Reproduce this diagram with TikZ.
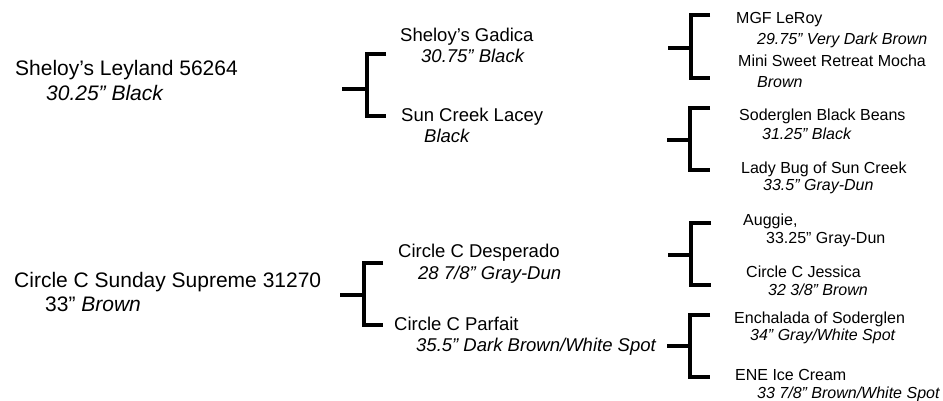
\documentclass[tikz,border=0pt]{standalone}
\usepackage{fontspec}
\setmainfont{Liberation Sans}
\usepackage{tikz}
\usetikzlibrary{calc}

\begin{document}
\begin{tikzpicture}[x=1pt, y=-1pt,
    every node/.style={inner sep=0pt, anchor=base west},
    gen1/.style={font=\fontsize{21}{25}\selectfont},
    gen2/.style={font=\fontsize{18.5}{22}\selectfont},
    gen3/.style={font=\fontsize{16}{19}\selectfont},
    bracket/.style={line width=4pt}]
    \useasboundingbox (0,0) rectangle (943,401);
    % Left: the two horses
    \node[gen1] (leyland) at (15,76) {Sheloy’s Leyland 56264};
    \node[gen1] (leyland-c) at (46,101) {\textit{30.25” Black}};
    \node[gen1] (sunday) at (14,287) {Circle C Sunday Supreme 31270};
    \node[gen1] (sunday-c) at (45,311) {33” \textit{Brown}};
    % Middle: parents
    \node[gen2] (gadica) at (400,41.5) {Sheloy’s Gadica};
    \node[gen2] (gadica-c) at (421,63) {\textit{30.75” Black}};
    \node[gen2] (lacey) at (401,121.5) {Sun Creek Lacey};
    \node[gen2] (lacey-c) at (424,143) {\textit{Black}};
    \node[gen2] (desperado) at (398,257) {Circle C Desperado};
    \node[gen2] (desperado-c) at (418,279) {\textit{28 7/8” Gray-Dun}};
    \node[gen2] (parfait) at (394,330) {Circle C Parfait};
    \node[gen2] (parfait-c) at (416,351) {\textit{35.5” Dark Brown/White Spot}};
    % Right: grandparents
    \node[gen3] (leroy) at (736,24) {MGF LeRoy};
    \node[gen3] (leroy-c) at (757,44.3) {\textit{29.75” Very Dark Brown}};
    \node[gen3] (mocha) at (738,66.7) {Mini Sweet Retreat Mocha};
    \node[gen3] (mocha-c) at (757,87.3) {\textit{Brown}};
    \node[gen3] (beans) at (739,120.7) {Soderglen Black Beans};
    \node[gen3] (beans-c) at (762,140) {\textit{31.25” Black}};
    \node[gen3] (ladybug) at (741,173.3) {Lady Bug of Sun Creek};
    \node[gen3] (ladybug-c) at (763,190.7) {\textit{33.5” Gray-Dun}};
    \node[gen3] (auggie) at (743,225.7) {Auggie,};
    \node[gen3] (auggie-c) at (766,243.3) {33.25” Gray-Dun};
    \node[gen3] (jessica) at (746,277.3) {Circle C Jessica};
    \node[gen3] (jessica-c) at (768,295) {\textit{32 3/8” Brown}};
    \node[gen3] (enchalada) at (734,323.3) {Enchalada of Soderglen};
    \node[gen3] (enchalada-c) at (750,340.7) {\textit{34” Gray/White Spot}};
    \node[gen3] (icecream) at (735,380) {ENE Ice Cream};
    \node[gen3] (icecream-c) at (757,398) {\textit{33 7/8” Brown/White Spot}};
    % Brackets: stub start, top arm end, bottom arm end
    \coordinate (s1) at (342,89);   \coordinate (t1) at (386,54);  \coordinate (u1) at (386,116);
    \coordinate (s2) at (340,295);  \coordinate (t2) at (383,263); \coordinate (u2) at (383,325);
    \coordinate (s3) at (668,48);   \coordinate (t3) at (710,15);  \coordinate (u3) at (710,78);
    \coordinate (s4) at (667,140);  \coordinate (t4) at (710,108); \coordinate (u4) at (710,170);
    \coordinate (s5) at (668,255);  \coordinate (t5) at (711,223); \coordinate (u5) at (711,285);
    \coordinate (s6) at (667,346);  \coordinate (t6) at (710,315); \coordinate (u6) at (710,377);
    \draw[bracket] (t1) -- ++(-19,0) |- (u1);
    \draw[bracket] (s1) -- ++(25,0);
    \draw[bracket] (t2) -- ++(-19,0) |- (u2);
    \draw[bracket] (s2) -- ++(24,0);
    \draw[bracket] (t3) -- ++(-19,0) |- (u3);
    \draw[bracket] (s3) -- ++(23,0);
    \draw[bracket] (t4) -- ++(-20,0) |- (u4);
    \draw[bracket] (s4) -- ++(23,0);
    \draw[bracket] (t5) -- ++(-20,0) |- (u5);
    \draw[bracket] (s5) -- ++(22,0);
    \draw[bracket] (t6) -- ++(-20,0) |- (u6);
    \draw[bracket] (s6) -- ++(23,0);
\end{tikzpicture}
\end{document}
